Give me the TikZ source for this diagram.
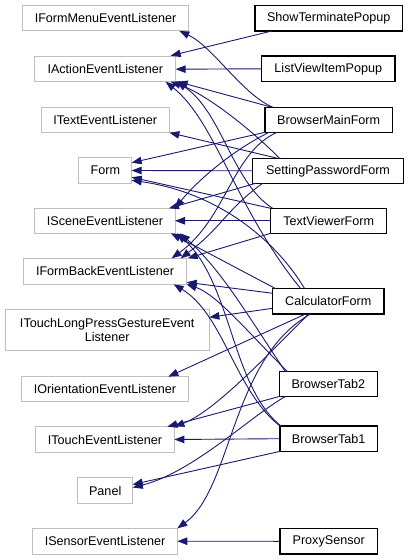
\documentclass[tikz,border=0pt]{standalone}
\usepackage{fontspec}
\setmainfont{Liberation Sans}
\usetikzlibrary{arrows.meta,calc}
\definecolor{edgecol}{HTML}{191970}
\definecolor{lgray}{HTML}{BFBFBF}
\begin{document}
\begin{tikzpicture}[x=1bp,y=-1bp,
  base/.style={rectangle, inner sep=0pt, outer sep=0pt, fill=white,
    font=\fontsize{12.6bp}{14bp}\selectfont, align=center},
  lbox/.style={base, draw=lgray, line width=1bp},
  rbox/.style={base, draw=black, line width=1.3bp},
  edge/.style={draw=edgecol, line width=0.9bp, -{Triangle[length=10bp,width=7.5bp]}},
]
\useasboundingbox[fill=white] (0,0) rectangle (409,560);

% left column (base classes)
\node[lbox, minimum width=165.6bp, minimum height=25.3bp] (ifm) at (105.5,18.3) {IFormMenuEventListener};
\node[lbox, minimum width=140.7bp, minimum height=25bp] (iae) at (105.3,69.2) {IActionEventListener};
\node[lbox, minimum width=128.3bp, minimum height=25.3bp] (ite) at (105.2,120) {ITextEventListener};
\node[lbox, minimum width=52.7bp, minimum height=25.6bp] (form) at (105.3,170.5) {Form};
\node[lbox, minimum width=140bp, minimum height=25bp] (ise) at (105,220.8) {ISceneEventListener};
\node[lbox, minimum width=163.3bp, minimum height=26bp] (ifb) at (105,271.3) {IFormBackEventListener};
\node[lbox, minimum width=204.3bp, minimum height=40.7bp] (itlp) at (107.2,330.3) {ITouchLongPressGestureEvent\\Listener};
\node[lbox, minimum width=166.7bp, minimum height=25.3bp] (ioe) at (105,389.3) {IOrientationEventListener};
\node[lbox, minimum width=138.7bp, minimum height=25.7bp] (itou) at (105,439.5) {ITouchEventListener};
\node[lbox, minimum width=55bp, minimum height=25.6bp] (panel) at (105.2,490.5) {Panel};
\node[lbox, minimum width=144.7bp, minimum height=25.7bp] (isen) at (105,541.2) {ISensorEventListener};

% right column (derived classes)
\node[rbox, minimum width=147.3bp, minimum height=25.3bp] (stp) at (328.7,18.3) {ShowTerminatePopup};
\node[rbox, minimum width=133.3bp, minimum height=25.7bp] (lvip) at (328.3,68.8) {ListViewItemPopup};
\node[rbox, minimum width=127.3bp, minimum height=25bp] (bmf) at (328.7,119.8) {BrowserMainForm};
\node[rbox, minimum width=150.7bp, minimum height=25bp] (spf) at (328,170.8) {SettingPasswordForm};
\node[rbox, minimum width=116bp, minimum height=25bp] (tvf) at (328.7,220.8) {TextViewerForm};
\node[rbox, minimum width=111.3bp, minimum height=25.3bp] (cf) at (328.3,301.3) {CalculatorForm};
\node[rbox, minimum width=98bp, minimum height=25bp] (bt2) at (328.3,384) {BrowserTab2};
\node[rbox, minimum width=97.3bp, minimum height=25.3bp] (bt1) at (328.7,438.7) {BrowserTab1};
\node[rbox, minimum width=97.3bp, minimum height=25.3bp] (ps) at (328.7,541.3) {ProxySensor};

% edges
\draw[edge] ($(stp.south west)+(17,0)$) -- ($(iae.north east)+(-5,-1)$);
\draw[edge] (lvip.west) -- (iae.east);
\draw[edge] ($(bmf.north west)+(8,0)$) .. controls +(-30,-12) and +(33,15) .. ($(ifm.south east)+(-9,0)$);
\draw[edge] ($(bmf.north west)+(7,0)$) -- ($(iae.south east)+(2,0)$);
\draw[edge] (bmf.south west) -- ($(form.north east)+(0,5)$);
\draw[edge] ($(spf.north west)+(25,0)$) -- (ite.south east);
\draw[edge] (spf.west) -- (form.east);
\draw[edge] (tvf.north west) -- ($(form.south east)+(0,-6)$);
\draw[edge] ($(cf.north west)+(32,0)$) .. controls +(-30,-50) and +(85,12) .. ($(form.south east)+(0,-3)$);
\draw[edge] ($(spf.north west)+(27,0)$) .. controls +(-30,-30) and +(35,12) .. ($(iae.south east)+(-5,0)$);
\draw[edge] ($(tvf.north west)+(2,0)$) .. controls +(-40,-25) and +(45,30) .. ($(iae.south east)+(1,0)$);
\draw[edge] ($(cf.north west)+(28,0)$) .. controls +(-65,-80) and +(50,40) .. ($(iae.south east)+(-10,0)$);
\draw[edge] ($(bmf.south west)+(4,0)$) .. controls +(-40,20) and +(20,-25) .. ($(ise.north east)+(0,0)$);
\draw[edge] ($(spf.south west)+(3,0)$) -- ($(ise.north east)+(-6,0)$);
\draw[edge] (tvf.west) -- (ise.east);
\draw[edge] ($(cf.north west)+(3,0)$) -- ($(ise.south east)+(-4,0)$);
\draw[edge] ($(bmf.south west)+(12,0)$) .. controls +(-45,20) and +(55,-40) .. ($(ifb.north east)+(-15,0)$);
\draw[edge] ($(spf.south west)+(10,0)$) .. controls +(-35,25) and +(40,-30) .. ($(ifb.north east)+(-6,0)$);
\draw[edge] (tvf.south west) -- ($(ifb.north east)+(1,0)$);
\draw[edge] ($(cf.west)+(0,-8)$) -- ($(ifb.east)+(0,11)$);
\draw[edge] ($(cf.west)+(0,7)$) -- ($(itlp.east)+(0,-13)$);
\draw[edge] ($(cf.south west)+(33,0)$) -- ($(ioe.north east)+(-20,0)$);
\draw[edge] ($(cf.south west)+(36,0)$) .. controls +(-40,40) and +(40,-15) .. (itou.north east);
\draw[edge] (bt2.south west) -- ($(itou.north east)+(-7,0)$);
\draw[edge] (bt1.west) -- (itou.east);
\draw[edge] (bt1.south west) -- ($(panel.east)+(0,-6)$);
\draw[edge] ($(bt2.south west)+(6,0)$) .. controls +(-35,20) and +(60,-15) .. ($(panel.east)+(0,-3)$);
\draw[edge] ($(cf.south west)+(38,0)$) .. controls +(-80,45) and +(55,-40) .. (isen.north east);
\draw[edge] (ps.west) -- (isen.east);
\draw[edge] (bt1.north west) .. controls +(-45,-35) and +(50,30) .. ($(ifb.south east)+(-13,0)$);
\draw[edge] ($(bt1.north west)+(1,0)$) .. controls +(-50,-40) and +(55,50) .. ($(ise.south east)+(2,0)$);
\draw[edge] ($(bt2.north west)+(8,0)$) .. controls +(-40,-40) and +(30,10) .. (ifb.south east);
\draw[edge] ($(bt2.north west)+(6,0)$) .. controls +(-40,-60) and +(40,35) .. ($(ise.south east)+(5,0)$);
\end{tikzpicture}
\end{document}
